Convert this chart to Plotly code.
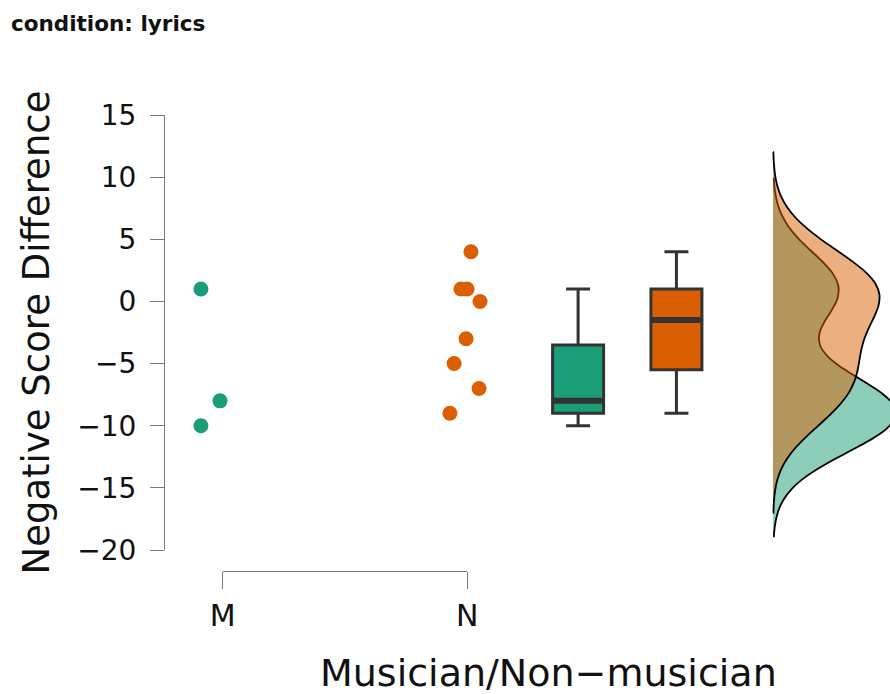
import numpy as np
import plotly.graph_objects as go

# ---- data -------------------------------------------------------------
groups = ["M", "N"]
scores_m = [1, -8, -10]
scores_n = [4, 1, 1, 0, -3, -5, -7, -9]
# horizontal jitter of the raw points (in category units)
jitter_m = [-0.089, -0.011, -0.089]
jitter_n = [0.015, -0.026, -0.001, 0.052, -0.005, -0.054, 0.048, -0.071]
y_ticks = [-20, -15, -10, -5, 0, 5, 10, 15]

# ---- styling / layout constants ----------------------------------------
colors = ["#1b9e77", "#d95f02"]
fills = ["rgba(27,158,119,0.5)", "rgba(217,95,2,0.5)"]
FONT = "DejaVu Sans"
W, H = 890, 694
ML, MR, MT, MB = 165, 0, 100, 100
PX_PER_UNIT = 244.6          # horizontal pixels per category step
CAT_PIX = 222.7              # pixel of the first category
box_pos = [2.453, 2.855]
box_width = 0.2085
violin_pos = 3.25

plot_w = W - ML - MR
plot_h = H - MT - MB


def px_to_x(p):
    return 1 + (p - CAT_PIX) / PX_PER_UNIT


def py_to_paper(p):
    return 1 - (p - MT) / plot_h


def nrd0(v):
    v = np.asarray(v, float)
    sd = v.std(ddof=1)
    q75, q25 = np.percentile(v, [75, 25])
    lo = min(sd, (q75 - q25) / 1.34)
    return 0.9 * lo * len(v) ** -0.2


def box_stats(v):
    v = np.asarray(v, float)
    q1, med, q3 = np.percentile(v, [25, 50, 75])
    iqr = q3 - q1
    lo = v[v >= q1 - 1.5 * iqr].min()
    hi = v[v <= q3 + 1.5 * iqr].max()
    return q1, med, q3, lo, hi


series = [scores_m, scores_n]
jitters = [jitter_m, jitter_n]

fig = go.Figure()

# half-violin densities sharing one baseline and one density scale
for vals, fc in zip(series, fills):
    bw = nrd0(vals)
    fig.add_trace(go.Violin(
        y=vals, x0=violin_pos, side="positive",
        bandwidth=bw, spanmode="manual",
        span=[min(vals) - 3 * bw, max(vals) + 3 * bw],
        scalegroup="dens", scalemode="width",
        fillcolor=fc, line=dict(color="black", width=1.8),
        points=False, box_visible=False, meanline_visible=False,
        hoverinfo="skip", showlegend=False,
    ))

# box plots
for vals, pos, col in zip(series, box_pos, colors):
    q1, med, q3, lo, hi = box_stats(vals)
    fig.add_trace(go.Box(
        x=[pos], q1=[q1], median=[med], q3=[q3],
        lowerfence=[lo], upperfence=[hi], width=box_width,
        fillcolor=col, line=dict(color="#333333", width=3), whiskerwidth=0.47,
        hoverinfo="skip", showlegend=False,
    ))
    fig.add_trace(go.Scatter(
        x=[pos - box_width / 2, pos + box_width / 2], y=[med, med],
        mode="lines", line=dict(color="#333333", width=6),
        hoverinfo="skip", showlegend=False,
    ))

# raw points
for i, (vals, jit, col) in enumerate(zip(series, jitters, colors)):
    fig.add_trace(go.Scatter(
        x=[i + 1 + j for j in jit], y=vals, mode="markers",
        marker=dict(color=col, size=15, line=dict(width=0)),
        hoverinfo="skip", showlegend=False,
    ))

# empty trace so the categorical bracket axis gets drawn
fig.add_trace(go.Scatter(x=[], y=[], xaxis="x2", yaxis="y",
                         hoverinfo="skip", showlegend=False))

axis_gray = "#7a7a7a"
fig.update_layout(
    width=W, height=H,
    margin=dict(l=ML, r=MR, t=MT, b=MB, autoexpand=False),
    paper_bgcolor="white", plot_bgcolor="rgba(0,0,0,0)",
    font=dict(family=FONT, color="#111111"),
    violinmode="overlay", boxmode="overlay",
    violingap=0, violingroupgap=0,
    showlegend=False,
    title=dict(
        text="<b>condition: lyrics</b>", font=dict(family=FONT, size=21.5, color="#111111"),
        x=11 / W, xanchor="left", xref="container",
        y=1 - 23 / H, yanchor="middle", yref="container",
    ),
    xaxis=dict(
        type="linear", domain=[0, 1], automargin=False,
        range=[px_to_x(ML), px_to_x(W - MR)],
        visible=False, fixedrange=True,
    ),
    xaxis2=dict(
        type="linear", anchor="free", automargin=False,
        domain=[(CAT_PIX - ML) / plot_w, (CAT_PIX + PX_PER_UNIT - ML) / plot_w],
        position=py_to_paper(571),
        range=[1, 2], tickmode="array", tickvals=[1, 2], ticktext=groups,
        ticks="outside", ticklen=17, tickwidth=1, tickcolor=axis_gray,
        showline=True, linecolor=axis_gray, linewidth=1,
        showgrid=False, zeroline=False,
        tickfont=dict(family=FONT, size=30, color="#111111"),
        ticklabelstandoff=1,
    ),
    yaxis=dict(
        anchor="x", domain=[py_to_paper(550), py_to_paper(115)], automargin=False,
        range=[-20, 15], tickmode="array", tickvals=y_ticks,
        ticks="outside", ticklen=14, tickwidth=1, tickcolor=axis_gray,
        showline=True, linecolor=axis_gray, linewidth=1,
        showgrid=False, zeroline=False,
        tickfont=dict(family=FONT, size=28, color="#111111"),
        ticklabelstandoff=8,
    ),
    annotations=[
        dict(text="Negative Score Difference", textangle=-90,
             xref="paper", yref="paper",
             x=(36 - ML) / plot_w, y=py_to_paper(332.5),
             xanchor="center", yanchor="middle", showarrow=False,
             font=dict(family=FONT, size=37, color="#111111")),
        dict(text="Musician/Non\u2212musician",
             xref="paper", yref="paper",
             x=(548.5 - ML) / plot_w, y=py_to_paper(673),
             xanchor="center", yanchor="middle", showarrow=False,
             font=dict(family=FONT, size=38, color="#111111")),
    ],
)

fig.write_html("out.html")
